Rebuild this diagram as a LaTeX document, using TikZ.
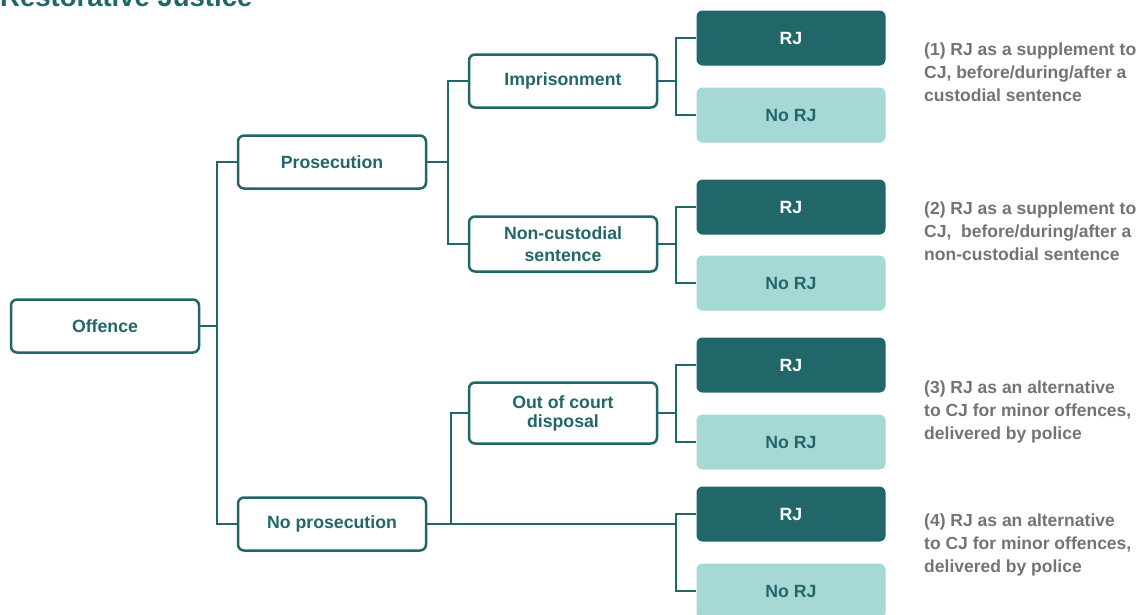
\documentclass[tikz,border=0pt]{standalone}
\usepackage{fontspec}
\setmainfont{Liberation Sans}
\definecolor{rjdark}{HTML}{21676A}
\definecolor{rjlight}{HTML}{A6D8D5}
\definecolor{notegrey}{HTML}{737373}
\begin{document}
\begin{tikzpicture}[x=1pt,y=-1pt,
  box/.style={draw=rjdark, line width=2.5pt, rounded corners=6pt, minimum width=188pt, minimum height=53pt, fill=white, text=rjdark, align=center, inner sep=0pt, font=\bfseries\fontsize{17.7}{21}\selectfont},
  rjbox/.style={fill=rjdark, rounded corners=6pt, minimum width=189pt, minimum height=55pt, text=white, inner sep=0pt, font=\bfseries\fontsize{17.7}{21}\selectfont},
  norjbox/.style={fill=rjlight, rounded corners=6pt, minimum width=189pt, minimum height=55pt, text=rjdark, inner sep=0pt, font=\bfseries\fontsize{17.7}{21}\selectfont},
  note/.style={anchor=base west, text=notegrey, align=left, inner sep=0pt, font=\bfseries\fontsize{17.5}{23}\selectfont},
  conn/.style={draw=rjdark, line width=2.5pt, line join=miter},
  title/.style={anchor=base west, inner sep=0pt, text=rjdark, font=\bfseries\fontsize{27.5}{30}\selectfont}]
\useasboundingbox (0,0) rectangle (1142,614);

\node[title] (ttl) at (0,6.5) {Restorative Justice};

% main boxes
\node[box] (off) at (105,326) {Offence};
\node[box] (pros) at (332,162) {Prosecution};
\node[box] (nopros) at (332,524) {No prosecution};
\node[box] (imp) at (563,81) {Imprisonment};
\node[box, minimum height=55pt, font=\bfseries\fontsize{17.7}{22}\selectfont] (noncust) at (563,244) {Non-custodial\\sentence};
\node[box, minimum height=61pt, font=\bfseries\fontsize{17.7}{19}\selectfont] (ooc) at (563,413) {Out of court\\disposal};

% RJ boxes
\node[rjbox] (rj1) at (791,38) {RJ};
\node[norjbox] (norj1) at (791,115) {No RJ};
\node[rjbox] (rj2) at (791,207) {RJ};
\node[norjbox] (norj2) at (791,283) {No RJ};
\node[rjbox] (rj3) at (791,365) {RJ};
\node[norjbox] (norj3) at (791,442) {No RJ};
\node[rjbox] (rj4) at (791,514) {RJ};
\node[norjbox] (norj4) at (791,591) {No RJ};

% junctions
\coordinate (j1) at (217,326);
\coordinate (j2) at (448,162);
\coordinate (j3) at (676,81);
\coordinate (j4) at (676,244);
\coordinate (j5) at (676,413);
\coordinate (j6) at (676,524);
\coordinate (j7) at (451,524);

\draw[conn] (off.east) -- (j1);
\draw[conn] (pros.west) -| (j1) |- (nopros.west);
\draw[conn] (pros.east) -- (j2);
\draw[conn] (imp.west) -| (j2) |- (noncust.west);
\draw[conn] (imp.east) -- (j3);
\draw[conn] (rj1.west) -| (j3) |- (norj1.west);
\draw[conn] (noncust.east) -- (j4);
\draw[conn] (rj2.west) -| (j4) |- (norj2.west);
\draw[conn] (ooc.east) -- (j5);
\draw[conn] (rj3.west) -| (j5) |- (norj3.west);
\draw[conn] (nopros.east) -- (j6);
\draw[conn] (rj4.west) -| (j6) |- (norj4.west);
\draw[conn] (j7) |- (ooc.west);

% notes (anchor = baseline of last line)
\node[note] (n1) at (924,101) {(1) RJ as a supplement to\\CJ, before/during/after a\\custodial sentence};
\node[note] (n2) at (924,260) {(2) RJ as a supplement to\\CJ,\ \ before/during/after a\\non-custodial sentence};
\node[note] (n3) at (924,439) {(3) RJ as an alternative\\to CJ for minor offences,\\delivered by police};
\node[note] (n4) at (924,572) {(4) RJ as an alternative\\to CJ for minor offences,\\delivered by police};
\end{tikzpicture}
\end{document}
